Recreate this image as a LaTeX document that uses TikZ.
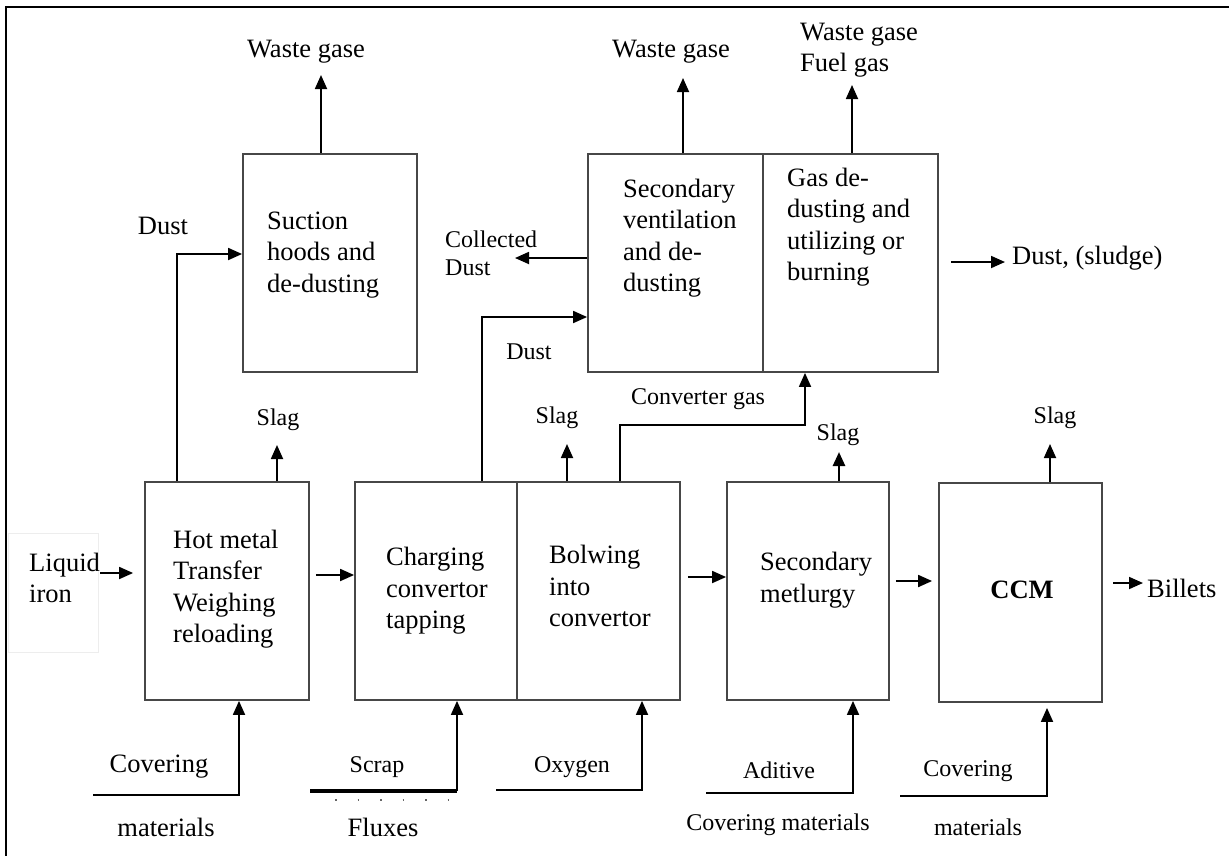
\documentclass[tikz,border=0pt]{standalone}
\usepackage{fontspec}
\setmainfont{Liberation Serif}
\usetikzlibrary{arrows.meta}
\begin{document}
\begin{tikzpicture}[x=1pt,y=-1pt,
  box/.style={draw=black!72, line width=1.8pt, inner sep=0pt},
  flow/.style={line width=1.8pt, -{Triangle[length=14pt,width=12pt]}},
  feed/.style={line width=1.8pt},
  big/.style={font=\fontsize{26.5}{31.5}\selectfont, inner sep=0pt, align=left},
  small/.style={font=\fontsize{24}{28}\selectfont, inner sep=0pt, align=left},
  ]
\useasboundingbox (0,0) rectangle (1229,855);
\fill[white] (0,0) rectangle (1229,855);
% outer frame (open at right and bottom)
\draw[line width=1.8pt] (6,860) -- (6,7) -- (1235,7);
% faint frame round the input label
\draw[black!7, line width=1pt] (8,533) rectangle (98,652);

% ---------- process boxes ----------
\node[box, minimum width=174pt, minimum height=218pt] (suction)  at (330,263) {};
\node[box, minimum width=175pt, minimum height=218pt] (secvent)  at (675.5,263) {};
\node[box, minimum width=175pt, minimum height=218pt] (gasdd)    at (850.5,263) {};
\node[box, minimum width=164pt, minimum height=218pt] (hotmetal) at (227,591) {};
\node[box, minimum width=162pt, minimum height=218pt] (charging) at (436,591) {};
\node[box, minimum width=163pt, minimum height=218pt] (blowing)  at (598.5,591) {};
\node[box, minimum width=162pt, minimum height=218pt] (secmet)   at (808,591) {};
\node[box, minimum width=163pt, minimum height=219pt] (ccm)      at (1020.5,592.5) {};

% ---------- box texts ----------
\node[big, anchor=west] (tsuction) at (267,255) {Suction\\hoods and\\de-dusting};
\node[big, anchor=west] (tsecvent) at (623,238) {Secondary\\ventilation\\and de-\\dusting};
\node[big, anchor=west] (tgasdd)   at (787,227) {Gas de-\\dusting and\\utilizing or\\burning};
\node[big, anchor=west] (thot)     at (173,589) {Hot metal\\Transfer\\Weighing\\reloading};
\node[big, anchor=west] (tcharg)   at (386,591) {Charging\\convertor\\tapping};
\node[big, anchor=west] (tblow)    at (549,591) {Bolwing\\into\\convertor\strut};
\node[big, anchor=west] (tsecmet)  at (760,580) {Secondary\\metlurgy};
\node[big, font=\fontsize{26.5}{31.5}\selectfont\bfseries] (tccm) at (1022,590) {CCM};

% ---------- anchor points of free ends ----------
\coordinate (wgA) at (321,75);
\coordinate (wgB) at (683,78);
\coordinate (wgC) at (852,85);
\coordinate (dA)  at (177,254);
\coordinate (dB)  at (482,317);
\coordinate (sA)  at (277,445);
\coordinate (sB)  at (567,444);
\coordinate (sC)  at (839,452);
\coordinate (sD)  at (1050,444);
\coordinate (cg1) at (620,425);
\coordinate (cg2) at (805,425);
\coordinate (cd)  at (515,258);
\coordinate (sl1) at (951,262);
\coordinate (sl2) at (1005,262);
\coordinate (liq) at (100,573);
\coordinate (bil1) at (1113,583);
\coordinate (bil2) at (1143,583);
\coordinate (r1) at (0,575);
\coordinate (r2) at (0,577);
\coordinate (r3) at (0,581);
\coordinate (in1) at (93,795);   \coordinate (in1c) at (239,795);
\coordinate (in2) at (310,791);  \coordinate (in2c) at (457,791);
\coordinate (in3) at (496,790);  \coordinate (in3c) at (642,790);
\coordinate (in4) at (706,793);  \coordinate (in4c) at (853,793);
\coordinate (in5) at (900,796);  \coordinate (in5c) at (1047,796);

% ---------- connectors ----------
% off-gas outlets
\draw[flow] (wgA |- suction.north) -- (wgA);
\draw[flow] (wgB |- secvent.north) -- (wgB);
\draw[flow] (wgC |- gasdd.north) -- (wgC);
% dust lines
\draw[flow] (dA |- hotmetal.north) -- (dA) -- (dA -| suction.west);
\draw[flow] (dB |- charging.north) -- (dB) -- (dB -| secvent.west);
\draw[flow] (secvent.west |- cd) -- (cd);
\draw[flow] (sl1) -- (sl2);
% converter gas
\draw[flow] (cg1 |- blowing.north) -- (cg1) -- (cg2) -- (cg2 |- gasdd.south);
% slag outlets
\draw[flow] (sA |- hotmetal.north) -- (sA);
\draw[flow] (sB |- blowing.north) -- (sB);
\draw[flow, line width=2.6pt] (sC |- secmet.north) -- (sC);
\draw[flow] (sD |- ccm.north) -- (sD);
% main line
\draw[flow, shorten >=11pt] (liq) -- (liq -| hotmetal.west);
\draw[flow, shorten <=6pt] (hotmetal.east |- r1) -- (charging.west |- r1);
\draw[flow, shorten <=7pt] (blowing.east |- r2) -- (secmet.west |- r2);
\draw[flow, shorten <=6pt, shorten >=6pt] (secmet.east |- r3) -- (ccm.west |- r3);
\draw[flow] (bil1) -- (bil2);
% material feeds
\draw[flow] (in1) -- (in1c) -- (in1c |- hotmetal.south);
\draw[line width=3.8pt] (in2) -- (in2c);
\draw[flow] (in2c) -- (in2c |- charging.south);
\draw[black!60, line width=1.2pt, dash pattern=on 1.5pt off 21pt] (335,800) -- (470,800);
\draw[flow] (in3) -- (in3c) -- (in3c |- blowing.south);
\draw[flow] (in4) -- (in4c) -- (in4c |- secmet.south);
\draw[flow, shorten >=5pt] (in5) -- (in5c) -- (in5c |- ccm.south);

% ---------- stream labels ----------
\node[big] (lwgA) at (306,52) {Waste gase};
\node[big] (lwgB) at (671,52) {Waste gase};
\node[big, anchor=west] (lwgC) at (800,50) {Waste gase\\Fuel gas};
\node[big] (ldA) at (163,226) {Dust};
\node[small] (ldB) at (529,352) {Dust};
\node[small, anchor=west] (lcd) at (445,253) {Collected\\Dust};
\node[big, anchor=west] (lsl) at (1012,258) {Dust, (sludge)};
\node[small] (lcg) at (698,399) {Converter gas};
\node[small] (lsA) at (278,420) {Slag};
\node[small] (lsB) at (557,418) {Slag};
\node[small] (lsC) at (838,435) {Slag};
\node[small] (lsD) at (1055,418) {Slag};
\node[big, anchor=west] (lliq) at (29,578) {Liquid\\iron};
\node[big, anchor=west] (lbil) at (1147,588) {Billets};
\node[big] (lin1a) at (159,767) {Covering};
\node[big] (lin1b) at (166,827) {materials};
\node[small] (lin2a) at (377,767) {Scrap};
\node[big] (lin2b) at (383,827) {Fluxes};
\node[small] (lin3) at (572,767) {Oxygen};
\node[small] (lin4a) at (779,770) {Aditive};
\node[small] (lin4b) at (778,825) {Covering materials};
\node[small] (lin5a) at (968,771) {Covering};
\node[small] (lin5b) at (978,827) {materials};
\end{tikzpicture}
\end{document}
